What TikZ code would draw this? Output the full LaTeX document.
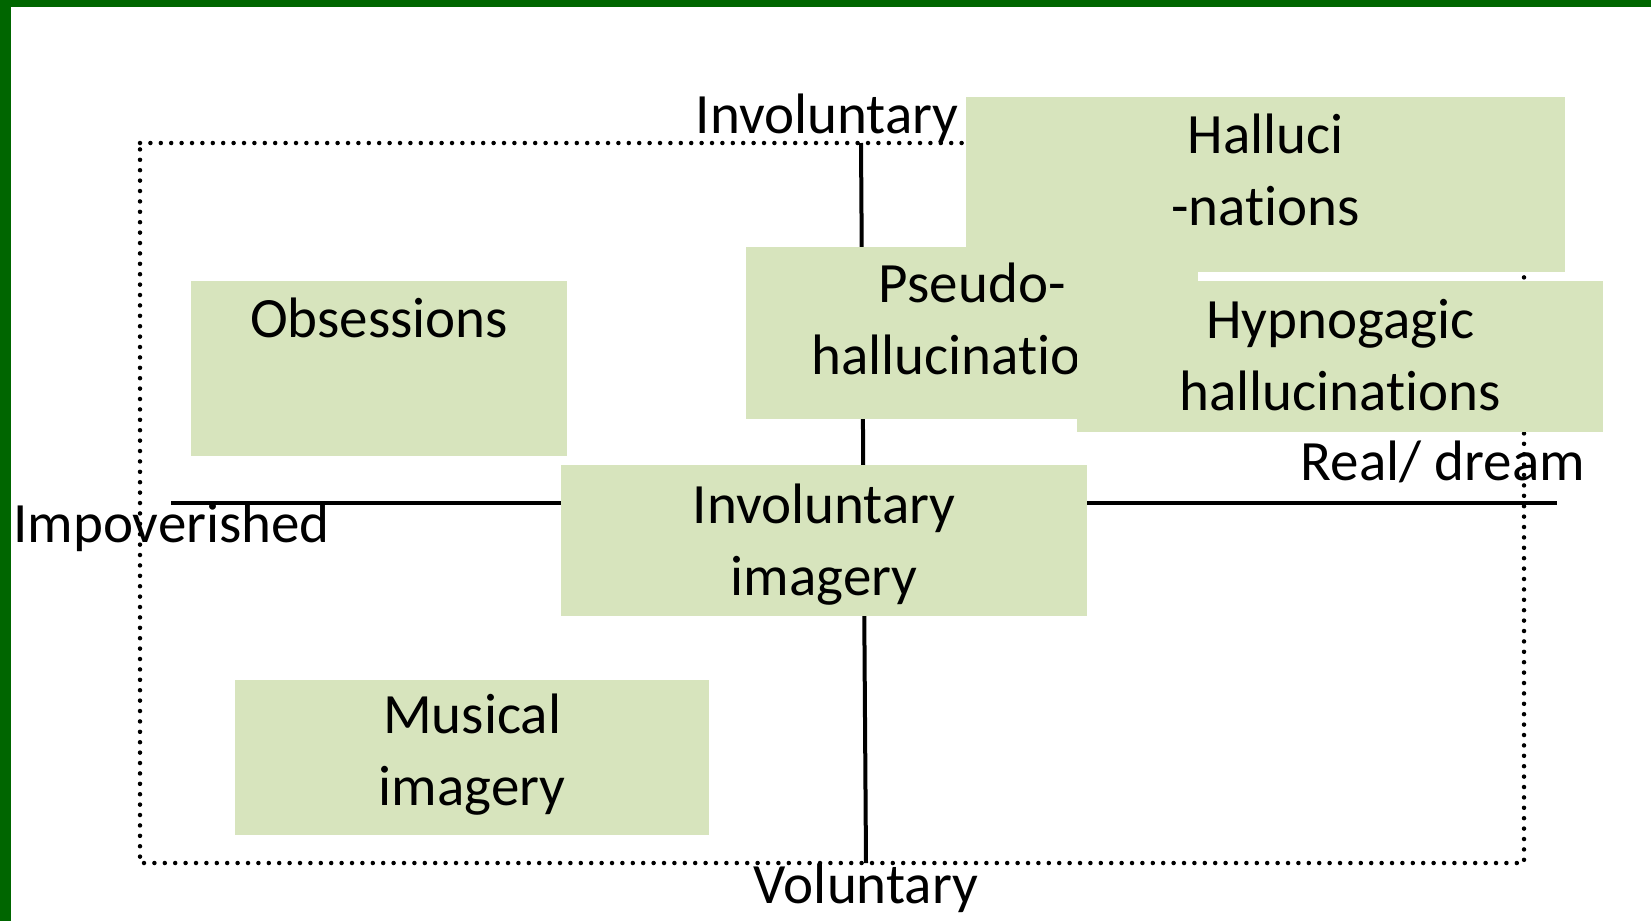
\documentclass[tikz,border=0pt]{standalone}
\usepackage{fontspec}
\setmainfont{Carlito}[RawFeature={-liga;-clig}]
\usetikzlibrary{calc}
\definecolor{framegreen}{HTML}{006600}
\definecolor{boxgreen}{HTML}{D7E4BD}
\tikzset{
  box/.style={rectangle, fill=boxgreen, draw=none, inner sep=0pt, anchor=north west},
  boxtext/.style={inner sep=0pt, align=center, anchor=base, font=\fontsize{57}{72}\selectfont},
  axislabel/.style={inner sep=0pt, anchor=base, font=\fontsize{57}{72}\selectfont},
  axisline/.style={line width=4pt, black},
  dotline/.style={line width=4.5pt, line cap=round, dash pattern=on 0pt off 10.4pt, black}
}
\begin{document}
\begin{tikzpicture}[x=1pt, y=-1pt]
  % page and frame
  \useasboundingbox (0,0) rectangle (1651,921);
  \fill[white] (0,0) rectangle (1651,921);
  \fill[framegreen] (0,0) rectangle (1651,7);
  \fill[framegreen] (0,0) rectangle (11,921);

  % dotted outer field
  \coordinate (tl) at (140,143);
  \coordinate (tr) at (1524,143);
  \coordinate (br) at (1524,863);
  \coordinate (bl) at (140,863);
  \draw[dotline] (tl) -- (tr) -- (br) -- (bl) -- cycle;

  % axes
  \coordinate (vtop) at (861,143);
  \coordinate (vbot) at (866,863);
  \coordinate (hleft) at (171,503);
  \coordinate (hright) at (1557,503);
  \draw[axisline] (vtop) -- (vbot);
  \draw[axisline] (hleft) -- (hright);

  % axis labels
  \node[axislabel] (invol) at (827,133) {Involuntary};
  \node[axislabel] (vol) at (866,903) {Voluntary};
  \node[axislabel, anchor=base west] (impov) at (13,542) {Impoverished};

  % category boxes (text anchored at the baseline of its last line)
  \node[box, minimum width=376pt, minimum height=175pt] (obs) at (191,281) {};
  \node[boxtext] (obsT) at ($(obs.north)+(0,56)$) {Obsessions};

  \node[box, minimum width=474pt, minimum height=155pt] (mus) at (235,680) {};
  \node[boxtext] (musT) at ($(mus.north)+(0,125)$) {Musical\\imagery};

  \node[box, minimum width=526pt, minimum height=151pt] (invim) at (561,465) {};
  \node[boxtext] (invimT) at ($(invim.north)+(0,130)$) {Involuntary\\imagery};

  \node[box, minimum width=599pt, minimum height=175pt] (hall) at (966,97) {};
  \node[boxtext] (hallT) at ($(hall.north)+(0,128)$) {Halluci\\-nations};

  \node[box, minimum width=452pt, minimum height=172pt] (pseudo) at (746,247) {};
  \node[boxtext] (pseudoT) at ($(pseudo.north)+(0,127)$) {Pseudo-\\hallucinations};

  \node[box, minimum width=526pt, minimum height=151pt] (hypno) at (1077,281) {};
  \node[boxtext] (hypnoT) at ($(hypno.north)+(0,129)$) {Hypnogagic\\hallucinations};

  \node[axislabel, anchor=base east] (real) at (1585,480) {Real/ dream};
\end{tikzpicture}
\end{document}
